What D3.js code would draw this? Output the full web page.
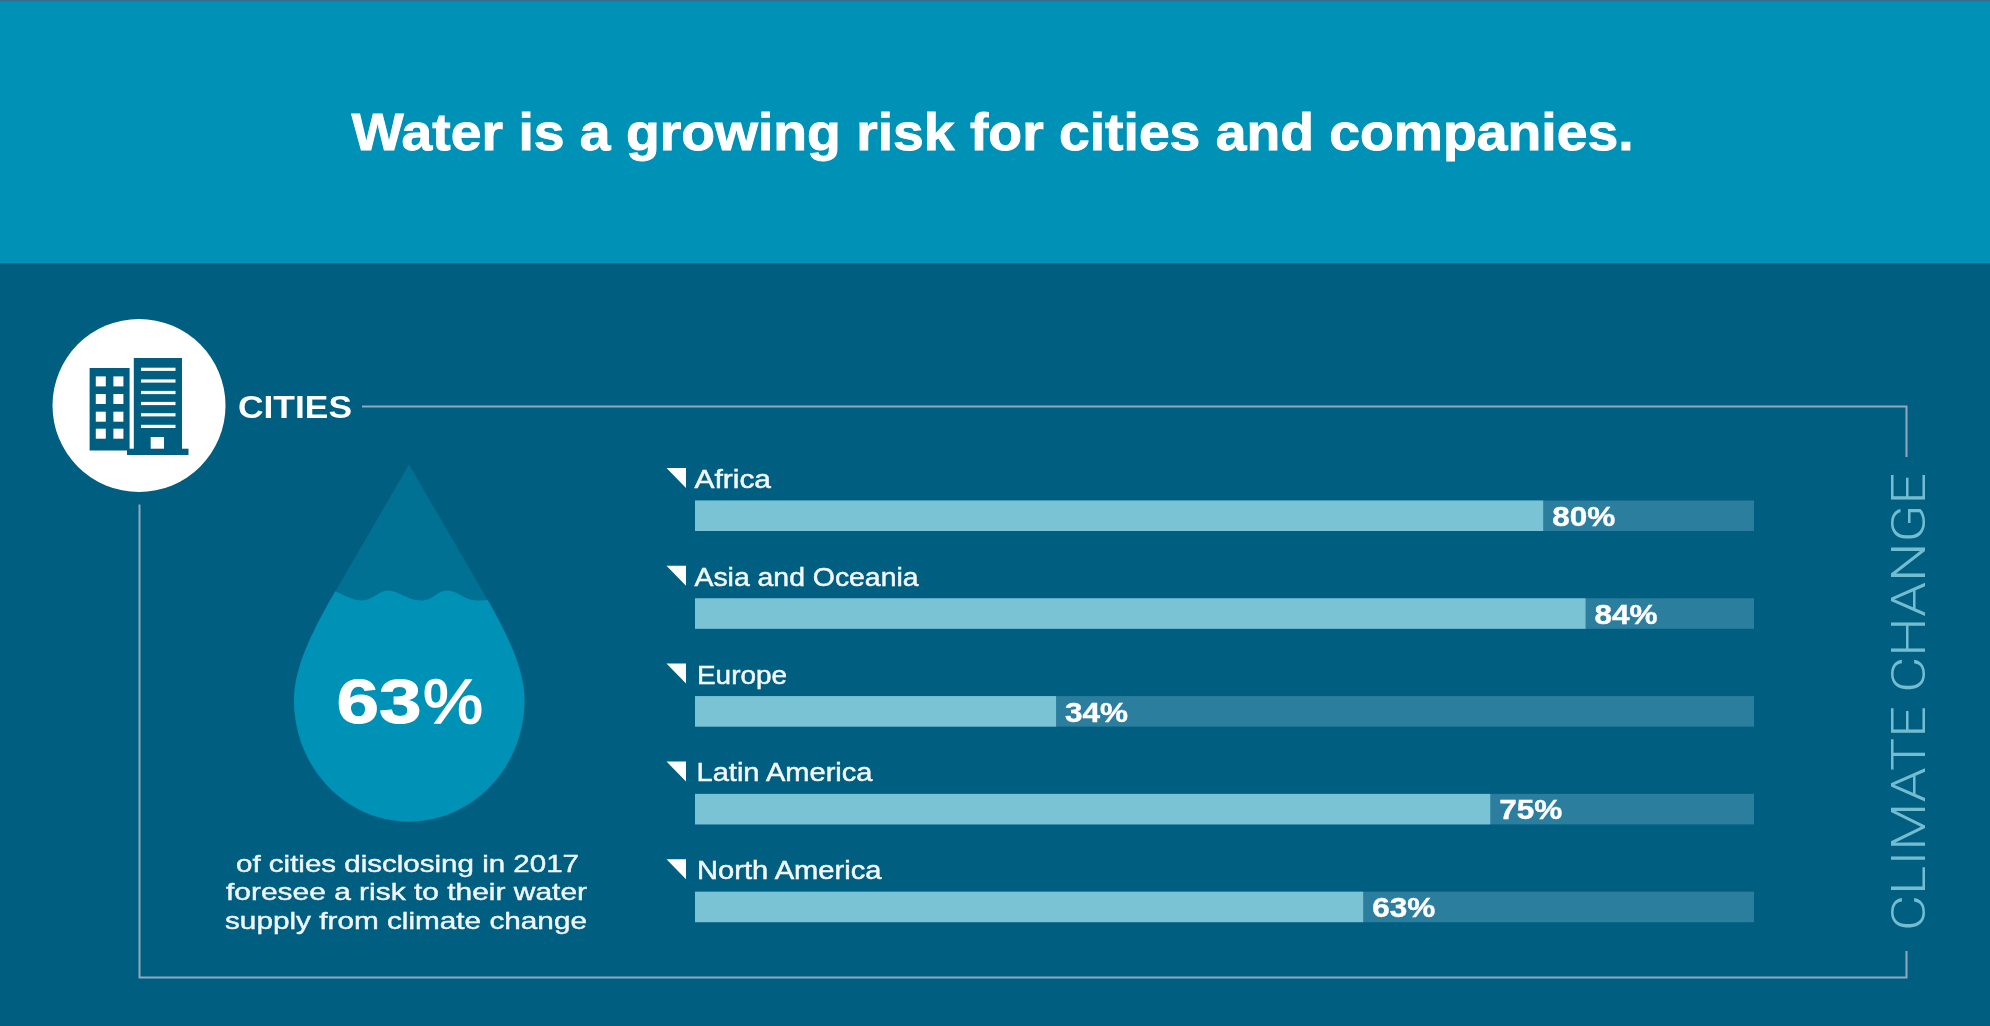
<!DOCTYPE html>
<html>
<head>
<meta charset="utf-8">
<script src="https://cdn.jsdelivr.net/npm/d3@7"></script>
<style>
html,body{margin:0;padding:0;background:#005f80;overflow:hidden}
svg{display:block;filter:blur(0.5px)}
text{font-family:"Liberation Sans",Arial,sans-serif}
</style>
</head>
<body>
<div id="chart"></div>
<script>
const categories = ["Africa", "Asia and Oceania", "Europe", "Latin America", "North America"];
const values = [80, 84, 34, 75, 63];
const titleText = "Water is a growing risk for cities and companies.";
const sectionLabel = "CITIES";
const sideLabel = "CLIMATE CHANGE";
const overallValue = 63;
const captionLines = ["of cities disclosing in 2017", "foresee a risk to their water", "supply from climate change"];

const W = 1990, H = 1026;
const C = {bg:"#005f80", head:"#0092b6", topEdge:"#3b6d8c", track:"#2b7e9d", bar:"#79c3d5",
           line:"#92a9bc", side:"#74bdd0", dropTop:"#007093", water:"#0092b6"};

const svg = d3.select("#chart").append("svg").attr("width", W).attr("height", H);
svg.append("rect").attr("x", -4).attr("y", -4).attr("width", W + 8).attr("height", H + 8).attr("fill", C.bg);
svg.append("rect").attr("x", -4).attr("width", W + 8).attr("height", 263).attr("fill", C.head);
svg.append("rect").attr("x", -4).attr("width", W + 8).attr("height", 1.5).attr("fill", C.topEdge);

function fit(sel, len){ return sel.attr("textLength", len).attr("lengthAdjust", "spacingAndGlyphs"); }

// title
fit(svg.append("text").attr("x", 351.5).attr("y", 150).attr("fill", "#fff").attr("stroke", "#fff").attr("stroke-width", 0.9)
  .attr("font-size", 52).attr("font-weight", 700).text(titleText), 1282);

// frame
const frame = svg.append("g").attr("fill", "none").attr("stroke", C.line).attr("stroke-width", 2);
frame.append("path").attr("d", "M362,406.5H1906.5V457");
frame.append("path").attr("d", "M139.5,504.5V977.5H1906.5V951");

// icon
svg.append("circle").attr("cx", 139).attr("cy", 405.5).attr("r", 86.5).attr("fill", "#fff");
const icon = svg.append("g").attr("fill", C.bg);
icon.append("rect").attr("x", 89.6).attr("y", 368).attr("width", 40).attr("height", 82.5);
icon.append("rect").attr("x", 133.8).attr("y", 358).attr("width", 48.2).attr("height", 92);
icon.append("rect").attr("x", 127).attr("y", 448.7).attr("width", 61.5).attr("height", 6.3);
const win = icon.append("g").attr("fill", "#fff");
[376.4, 394, 411.7, 428.7].forEach(y => [95.8, 113.4].forEach(x =>
  win.append("rect").attr("x", x).attr("y", y).attr("width", 10).attr("height", 10)));
[369.3, 381, 392.5, 403.5, 414.8, 426.4].forEach(y =>
  win.append("rect").attr("x", 141).attr("y", y - 1.6).attr("width", 34.5).attr("height", 3.2));
win.append("rect").attr("x", 150.7).attr("y", 437).attr("width", 13.3).attr("height", 11.7);

fit(svg.append("text").attr("x", 238).attr("y", 418).attr("fill", "#fff")
  .attr("font-size", 32).attr("font-weight", 700).text(sectionLabel), 114);

// drop
const dropPath = "M409,464.5 L332,597 C312,632 294,668 294,700 C294,767 345,821.5 409,821.5 C473,821.5 524.5,767 524.5,700 C524.5,668 506,632 486,597 Z";
const defs = svg.append("defs");
defs.append("clipPath").attr("id", "dropClip").append("path").attr("d", dropPath);
svg.append("path").attr("d", dropPath).attr("fill", C.dropTop);
svg.append("path").attr("clip-path", "url(#dropClip)").attr("fill", C.water)
  .attr("d", "M320,591 L333,590.5 C345,595 352,600.5 362,600.5 C372,600.5 378,591 388,590.5 C398,590.5 408,600.5 421,600.5 C434,600.5 436,591 447,590.5 C458,590.5 465,600.5 476,600.5 C482,600.5 488,600 500,599 L540,600 V830 H280 V600 Z");

svg.append("text").attr("x", 336.5).attr("y", 722.5).attr("fill", "#fff").attr("stroke", "#fff").attr("stroke-width", 1)
  .attr("font-size", 63).attr("font-weight", 700).attr("textLength", 85).attr("lengthAdjust", "spacingAndGlyphs")
  .text(String(overallValue));
fit(svg.append("text").attr("x", 423).attr("y", 722.5).attr("fill", "#fff").attr("stroke", "#fff").attr("stroke-width", 1.6)
  .attr("font-size", 63).text("%"), 60);

// caption
const capX = [236, 226, 225], capY = [871.5, 900, 929], capLen = [343, 361, 362];
captionLines.forEach((t, i) => {
  fit(svg.append("text").attr("x", capX[i]).attr("y", capY[i]).attr("fill", "#eef6f8")
    .attr("font-size", 24.5).attr("stroke", "#eef6f8").attr("stroke-width", 0.45).text(t), capLen[i]);
});

// bars
const x = d3.scaleLinear().domain([0, 100]).range([695, 1754]);
const y = d3.scaleBand().domain(categories).range([500.5, 500.5 + 97.8 * 4 + 30.5]).paddingInner(1 - 30.5 / 97.8);
const labelX = [694.5, 694.5, 697, 696.5, 697], labelLen = [76.5, 224, 90, 176, 184.5];
const rows = svg.selectAll("g.row").data(categories.map((c, i) => ({c, v: values[i], i}))).join("g").attr("class", "row");
rows.append("rect").attr("x", x(0)).attr("y", d => y(d.c)).attr("width", x(100) - x(0)).attr("height", y.bandwidth()).attr("fill", C.track);
rows.append("rect").attr("x", x(0)).attr("y", d => y(d.c)).attr("width", d => x(d.v) - x(0) + 1).attr("height", y.bandwidth()).attr("fill", C.bar);
rows.append("path").attr("fill", "#fff")
  .attr("d", d => { const t = y(d.c) - 32.5; return `M666.5,${t}H686V${t + 20}Z`; });
rows.append("text").attr("fill", "#f2f8fa").attr("stroke", "#f2f8fa").attr("stroke-width", 0.5)
  .attr("font-size", 26)
  .attr("x", d => labelX[d.i]).attr("y", d => y(d.c) - 12.5)
  .attr("textLength", d => labelLen[d.i]).attr("lengthAdjust", "spacingAndGlyphs")
  .text(d => d.c);
rows.append("text").attr("fill", "#fff").attr("font-weight", 700).attr("font-size", 27)
  .attr("stroke", "#fff").attr("stroke-width", 0.4)
  .attr("x", d => x(d.v) + 10).attr("y", d => y(d.c) + 25.5)
  .attr("textLength", 63).attr("lengthAdjust", "spacingAndGlyphs")
  .text(d => d.v + "%");

// side label
fit(svg.append("text").attr("transform", "translate(1924.5,931) rotate(-90)")
  .attr("fill", C.side).attr("font-weight", 300).attr("font-size", 49).text(sideLabel), 458)
  .style("font-family", "Roboto");
</script>
</body>
</html>
